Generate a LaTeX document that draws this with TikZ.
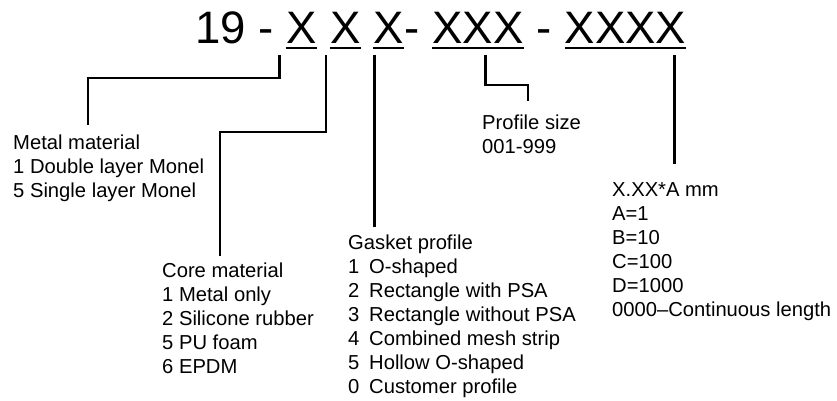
\documentclass[tikz,border=0pt]{standalone}
\usepackage{fontspec}
\setmainfont{Liberation Sans}
\usetikzlibrary{positioning}

\begin{document}
\begin{tikzpicture}[x=1pt, y=1pt, node distance=12.65pt,
  code/.style={inner sep=0pt, font=\fontsize{45.5}{54}\selectfont},
  uline/.style={line width=2pt},
  conn/.style={line width=2.5pt},
  note/.style={inner sep=0pt, anchor=north west, align=left, font=\fontsize{20.2}{24}\selectfont}]
\useasboundingbox (0,0) rectangle (837,-401);

% Part number
\node[code, anchor=base west] (num) at (195,-44) {19 -};
\node[code, base right=of num] (xa) {X};
\node[code, base right=of xa] (xb) {X};
\node[code, base right=of xb] (xc) {X};
\node[code, base right=0pt of xc] (d1) {-};
\node[code, base right=of d1] (xsize) {XXX};
\node[code, base right=of xsize] (d2) {-};
\node[code, base right=of d2] (xlen) {XXXX};

% Underlines
\foreach \n in {xa,xb,xc,xsize,xlen}
  \draw[uline] ([yshift=-4.5pt]\n.base west) -- ([yshift=-4.5pt]\n.base east);

% Legends
\node[note] (metal) at (13,-134.5) {Metal material\\1 Double layer Monel\\5 Single layer Monel};
\node[note] (core) at (162,-262.5) {Core material\\1 Metal only\\2 Silicone rubber\\5 PU foam\\6 EPDM};
\node[note] (gasket) at (348,-234.5) {Gasket profile\\
  \makebox[21pt][l]{1}O-shaped\\
  \makebox[21pt][l]{2}Rectangle with PSA\\
  \makebox[21pt][l]{3}Rectangle without PSA\\
  \makebox[21pt][l]{4}Combined mesh strip\\
  \makebox[21pt][l]{5}Hollow O-shaped\\
  \makebox[21pt][l]{0}Customer profile};
\node[note] (size) at (482,-114.5) {Profile size\\001-999};
\node[note] (length) at (612,-182.5) {X.XX*A mm\\A=1\\B=10\\C=100\\D=1000\\0000--Continuous length};

% Leaders
\draw[conn] ([xshift=-7pt,yshift=-11pt]xa.base west) -- ++(0,-23) -| ([xshift=75pt,yshift=9.5pt]metal.north west);
\draw[conn] ([xshift=-4pt,yshift=-11pt]xb.base west) -- ++(0,-77) -| ([xshift=58pt,yshift=6.5pt]core.north west);
\draw[conn] ([xshift=1pt,yshift=-11pt]xc.base west) -- ++(0,-172);
\draw[conn] ([xshift=7.5pt,yshift=-11pt]xsize.base) -- ++(0,-30) -| ([xshift=46pt,yshift=13.5pt]size.north west);
\draw[conn] ([xshift=-12pt,yshift=-11pt]xlen.base east) -- ++(0,-109);

\end{tikzpicture}
\end{document}
